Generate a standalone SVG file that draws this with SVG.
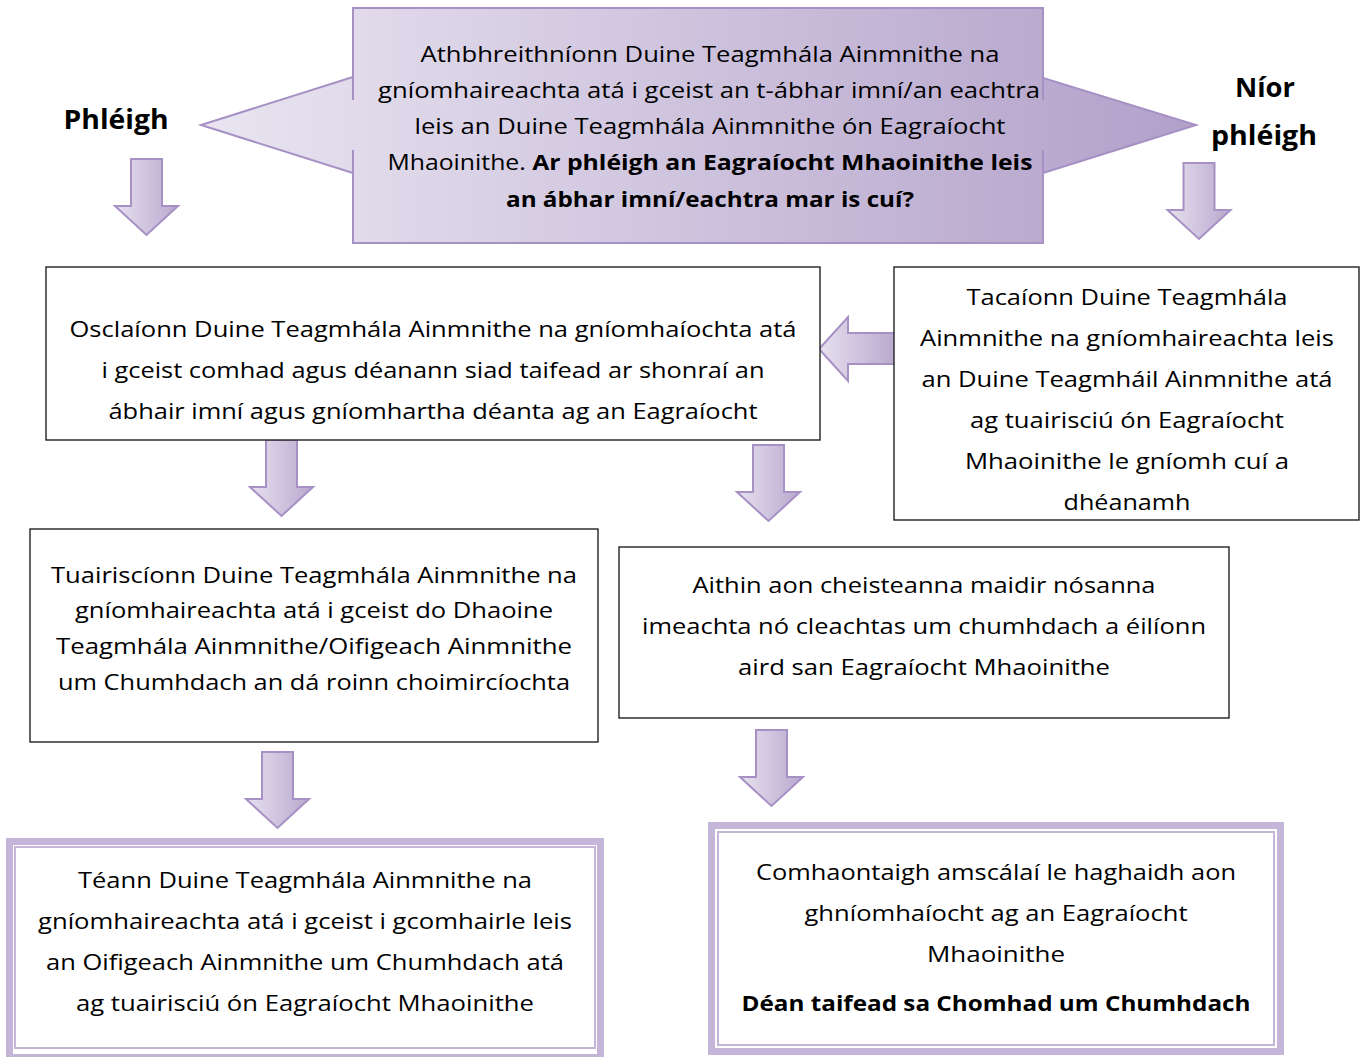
<svg xmlns="http://www.w3.org/2000/svg" width="1363" height="1057" viewBox="0 0 1363 1057">
<defs>
<linearGradient id="gTop" gradientUnits="userSpaceOnUse" x1="201" y1="0" x2="1197" y2="0">
<stop offset="0" stop-color="#e9e5f1"/>
<stop offset="1" stop-color="#b2a0c9"/>
</linearGradient>
<linearGradient id="gArrH" x1="0" y1="0" x2="1" y2="0">
<stop offset="0" stop-color="#e6e1ef"/>
<stop offset="1" stop-color="#b9a8ce"/>
</linearGradient>
<linearGradient id="gArrV" x1="0" y1="0" x2="0" y2="1">
<stop offset="0" stop-color="#e6e1ef"/>
<stop offset="1" stop-color="#bcabd0"/>
</linearGradient>
<path id="down" d="M-15.5,0 H15.5 V47 H31.5 L0,76 L-31.5,47 H-15.5 Z"/>
</defs>
<style>
.t{font-family:"Open Sans","Liberation Sans",sans-serif;font-size:22px;fill:#000;text-anchor:middle}
.b{font-weight:bold}
.box{fill:#fff;stroke:#222;stroke-width:1.4}
.arr{fill:url(#gArrH);stroke:#a690c4;stroke-width:2}
.outer{fill:#fff;stroke:#c4b5d9;stroke-width:7}
.inner{fill:none;stroke:#c4b5d9;stroke-width:2}
.lbl{font-family:"Open Sans","Liberation Sans",sans-serif;font-size:26px;font-weight:bold;fill:#000;text-anchor:middle}
</style>

<g id="decision">
<path d="M353,8 H1043 V78 L1196,125 L1043,173 V243 H353 V173 L201,125 L353,77 Z" fill="url(#gTop)" stroke="#a690c4" stroke-width="2"/>
<path d="M353,77 V100 M353,150 V173 M1043,78 V100 M1043,150 V173" stroke="#a690c4" stroke-width="2"/>
<text class="t" x="710" y="62" textLength="579" lengthAdjust="spacingAndGlyphs">Athbhreithníonn Duine Teagmhála Ainmnithe na</text>
<text class="t" x="709" y="98" textLength="662" lengthAdjust="spacingAndGlyphs">gníomhaireachta atá i gceist an t-ábhar imní/an eachtra</text>
<text class="t" x="710" y="134" textLength="591" lengthAdjust="spacingAndGlyphs">leis an Duine Teagmhála Ainmnithe ón Eagraíocht</text>
<text class="t" x="710" y="170" textLength="645" lengthAdjust="spacingAndGlyphs">Mhaoinithe. <tspan class="b">Ar phléigh an Eagraíocht Mhaoinithe leis</tspan></text>
<text class="t b" x="710" y="207" textLength="408" lengthAdjust="spacingAndGlyphs">an ábhar imní/eachtra mar is cuí?</text>
</g>

<g id="label-phleigh">
<text class="lbl" x="116" y="129" textLength="105" lengthAdjust="spacingAndGlyphs">Phléigh</text>
</g>
<g id="label-nior-phleigh">
<text class="lbl" x="1265" y="97" textLength="60" lengthAdjust="spacingAndGlyphs">Níor</text>
<text class="lbl" x="1264" y="145" textLength="106" lengthAdjust="spacingAndGlyphs">phléigh</text>
</g>

<g id="connectors">
<use href="#down" class="arr" transform="translate(146.5,159)"/>
<use href="#down" class="arr" transform="translate(1199,163)"/>
<path class="arr" d="M896,333 V364 H848 V381 L819,349 L848,317 V333 Z"/>
<use href="#down" class="arr" transform="translate(281.5,440)"/>
<use href="#down" class="arr" transform="translate(768.5,445)"/>
<use href="#down" class="arr" transform="translate(277.5,752)"/>
<use href="#down" class="arr" transform="translate(771.5,730)"/>
</g>

<g id="open-file">
<rect class="box" x="46" y="267" width="774" height="173"/>
<text class="t" x="433" y="337" textLength="727" lengthAdjust="spacingAndGlyphs">Osclaíonn Duine Teagmhála Ainmnithe na gníomhaíochta atá</text>
<text class="t" x="433" y="378" textLength="663" lengthAdjust="spacingAndGlyphs">i gceist comhad agus déanann siad taifead ar shonraí an</text>
<text class="t" x="433" y="419" textLength="649" lengthAdjust="spacingAndGlyphs">ábhair imní agus gníomhartha déanta ag an Eagraíocht</text>
</g>

<g id="support">
<rect class="box" x="894" y="267" width="465" height="253"/>
<text class="t" x="1127" y="305" textLength="321" lengthAdjust="spacingAndGlyphs">Tacaíonn Duine Teagmhála</text>
<text class="t" x="1127" y="346" textLength="414" lengthAdjust="spacingAndGlyphs">Ainmnithe na gníomhaireachta leis</text>
<text class="t" x="1127" y="387" textLength="411" lengthAdjust="spacingAndGlyphs">an Duine Teagmháil Ainmnithe atá</text>
<text class="t" x="1127" y="428" textLength="314" lengthAdjust="spacingAndGlyphs">ag tuairisciú ón Eagraíocht</text>
<text class="t" x="1127" y="469" textLength="324" lengthAdjust="spacingAndGlyphs">Mhaoinithe le gníomh cuí a</text>
<text class="t" x="1127" y="510" textLength="127" lengthAdjust="spacingAndGlyphs">dhéanamh</text>
</g>

<g id="report">
<rect class="box" x="30" y="529" width="568" height="213"/>
<text class="t" x="314" y="583" textLength="526" lengthAdjust="spacingAndGlyphs">Tuairiscíonn Duine Teagmhála Ainmnithe na</text>
<text class="t" x="314" y="618" textLength="478" lengthAdjust="spacingAndGlyphs">gníomhaireachta atá i gceist do Dhaoine</text>
<text class="t" x="314" y="654" textLength="516" lengthAdjust="spacingAndGlyphs">Teagmhála Ainmnithe/Oifigeach Ainmnithe</text>
<text class="t" x="314" y="690" textLength="512" lengthAdjust="spacingAndGlyphs">um Chumhdach an dá roinn choimircíochta</text>
</g>

<g id="identify">
<rect class="box" x="619" y="547" width="610" height="171"/>
<text class="t" x="924" y="593" textLength="463" lengthAdjust="spacingAndGlyphs">Aithin aon cheisteanna maidir nósanna</text>
<text class="t" x="924" y="634" textLength="564" lengthAdjust="spacingAndGlyphs">imeachta nó cleachtas um chumhdach a éilíonn</text>
<text class="t" x="924" y="675" textLength="372" lengthAdjust="spacingAndGlyphs">aird san Eagraíocht Mhaoinithe</text>
</g>

<g id="consult">
<rect class="outer" x="9.5" y="841.5" width="591" height="216"/>
<rect class="inner" x="15" y="847" width="580" height="201"/>
<text class="t" x="305" y="888" textLength="454" lengthAdjust="spacingAndGlyphs">Téann Duine Teagmhála Ainmnithe na</text>
<text class="t" x="305" y="929" textLength="534" lengthAdjust="spacingAndGlyphs">gníomhaireachta atá i gceist i gcomhairle leis</text>
<text class="t" x="305" y="970" textLength="518" lengthAdjust="spacingAndGlyphs">an Oifigeach Ainmnithe um Chumhdach atá</text>
<text class="t" x="305" y="1011" textLength="458" lengthAdjust="spacingAndGlyphs">ag tuairisciú ón Eagraíocht Mhaoinithe</text>
</g>

<g id="agree">
<rect class="outer" x="711.5" y="825.5" width="569" height="226"/>
<rect class="inner" x="718" y="832" width="556" height="213"/>
<text class="t" x="996" y="880" textLength="480" lengthAdjust="spacingAndGlyphs">Comhaontaigh amscálaí le haghaidh aon</text>
<text class="t" x="996" y="921" textLength="383" lengthAdjust="spacingAndGlyphs">ghníomhaíocht ag an Eagraíocht</text>
<text class="t" x="996" y="962" textLength="138" lengthAdjust="spacingAndGlyphs">Mhaoinithe</text>
<text class="t b" x="996" y="1011" textLength="509" lengthAdjust="spacingAndGlyphs">Déan taifead sa Chomhad um Chumhdach</text>
</g>
</svg>
